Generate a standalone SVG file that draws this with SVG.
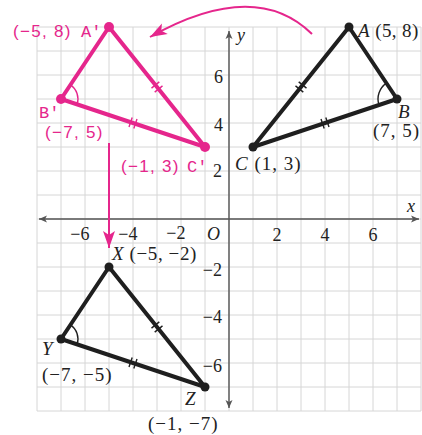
<svg xmlns="http://www.w3.org/2000/svg" width="422" height="435" viewBox="0 0 422 435">
<style>
.grid{stroke:#d6d6d6;stroke-width:1;fill:none}
.axis{stroke:#555;stroke-width:1.4;fill:none}
.pk{stroke:#e5268c;stroke-width:4;fill:none;stroke-linejoin:round;stroke-linecap:round}
.bk{stroke:#1f1f1f;stroke-width:4;fill:none;stroke-linejoin:round;stroke-linecap:round}
.pkt{stroke:#e5268c;stroke-width:1.4;fill:none}
.bkt{stroke:#1f1f1f;stroke-width:1.4;fill:none}
.pdot{fill:#e5268c}
.bdot{fill:#1f1f1f}
.ser{font-family:"Liberation Serif","Times New Roman",serif;font-size:19px;fill:#222;letter-spacing:1px}
.ax{font-family:"Liberation Serif","Times New Roman",serif;font-size:18px;fill:#222}
.it{font-style:italic}
.psans{font-family:"Liberation Sans",Arial,sans-serif;font-size:17px;fill:#e5268c;letter-spacing:1.3px}
.pmono{font-family:"Liberation Mono","DejaVu Sans Mono",monospace;font-size:17px;fill:#e5268c}
.parrow{stroke:#e5268c;stroke-width:2;fill:none}
</style>
<defs>
<marker id="pah" markerUnits="userSpaceOnUse" markerWidth="18" markerHeight="12" refX="17" refY="6" orient="auto" overflow="visible">
<path d="M0,0 L17,6 L0,12 L4,6 z" fill="#e5268c"/>
</marker>
<marker id="aah" markerUnits="userSpaceOnUse" markerWidth="9" markerHeight="7" refX="8" refY="3.5" orient="auto" overflow="visible">
<path d="M0,0 L8,3.5 L0,7 L2,3.5 z" fill="#555"/>
</marker>
</defs>
<g id="grid" class="grid">
<path d="M37,27V411M61,27V411M85,27V411M109,27V411M133,27V411M157,27V411M181,27V411M205,27V411M229,27V411M253,27V411M277,27V411M301,27V411M325,27V411M349,27V411M373,27V411M397,27V411M421,27V411"/>
<path d="M37,27H421M37,51H421M37,75H421M37,99H421M37,123H421M37,147H421M37,171H421M37,195H421M37,219H421M37,243H421M37,267H421M37,291H421M37,315H421M37,339H421M37,363H421M37,387H421M37,411H421"/>
</g>
<g id="axes">
<path class="axis" d="M229,219H419" marker-end="url(#aah)"/>
<path class="axis" d="M229,219H39" marker-end="url(#aah)"/>
<path class="axis" d="M229,219V31" marker-end="url(#aah)"/>
<path class="axis" d="M229,219V408" marker-end="url(#aah)"/>
<text class="ax it" x="407" y="212">x</text>
<text class="ax it" x="237" y="41">y</text>
<text class="ax it" x="207" y="240">O</text>
<g class="ax" text-anchor="end">
<text x="89.5" y="240">−6</text>
<text x="137.5" y="240">−4</text>
<text x="185.5" y="239">−2</text>
<text x="223" y="83">6</text>
<text x="223" y="131">4</text>
<text x="222" y="177">2</text>
<text x="222" y="276">−2</text>
<text x="222" y="323">−4</text>
<text x="222" y="372">−6</text>
</g>
<g class="ax" text-anchor="middle">
<text x="277" y="241">2</text>
<text x="325" y="241">4</text>
<text x="373" y="241">6</text>
</g>
</g>
<g id="connectors">
<path class="parrow" d="M312,34 Q255,-22 150,37" marker-end="url(#pah)"/>
<path class="parrow" d="M109,143 V248" marker-end="url(#pah)"/>
</g>
<g id="triangleABC">
<path class="bk" d="M349,27 L397,99 L253,147 Z"/>
<path class="bkt" d="M295.5,85.9L303.3,92.1M298.7,81.9L306.5,88.1M321,119.1L324.2,128.5M325.8,117.5L329,126.9"/>
<path class="bkt" d="M386.5,83.2 A19,19 0 0 0 379,105"/>
<circle class="bdot" cx="349" cy="27" r="4.5"/>
<circle class="bdot" cx="397" cy="99" r="4.5"/>
<circle class="bdot" cx="253" cy="147" r="4.5"/>
<text class="ser" x="358" y="37" style="letter-spacing:0.4px"><tspan class="it">A</tspan> (5, 8)</text>
<text class="ser it" x="398" y="118">B</text>
<text class="ser" x="373" y="137">(7, 5)</text>
<text class="ser" x="235" y="170"><tspan class="it">C</tspan> (1, 3)</text>
</g>
<g id="trianglePrime">
<path class="pk" d="M109,27 L61,99 L205,147 Z"/>
<path class="pkt" d="M151.5,88.1L159.3,81.9M154.7,92.1L162.5,85.9M132.2,117.5L129,126.9M137,119.1L133.8,128.5"/>
<path class="pkt" d="M70.4,84.9 A17,17 0 0 1 77.1,104.4"/>
<circle class="pdot" cx="109" cy="27" r="5"/>
<circle class="pdot" cx="61" cy="99" r="5"/>
<circle class="pdot" cx="205" cy="147" r="5"/>
<text class="psans" x="13" y="37">(−5, 8)</text>
<text class="pmono" x="81" y="37">A′</text>
<text class="pmono" x="39" y="118">B′</text>
<text class="psans" x="45" y="138">(−7, 5)</text>
<text class="psans" x="121" y="172">(−1, 3)</text>
<text class="pmono" x="187" y="172">C′</text>
</g>
<g id="triangleXYZ">
<path class="bk" d="M109,267 L61,339 L205,387 Z"/>
<path class="bkt" d="M151.5,328.1L159.3,321.9M154.7,332.1L162.5,325.9M132.2,357.5L129,366.9M137,359.1L133.8,368.5"/>
<path class="bkt" d="M70.4,324.9 A17,17 0 0 1 77.1,344.4"/>
<circle class="bdot" cx="109" cy="267" r="4.5"/>
<circle class="bdot" cx="61" cy="339" r="4.5"/>
<circle class="bdot" cx="205" cy="387" r="4.5"/>
<text class="ser" x="112" y="260" style="letter-spacing:0.6px"><tspan class="it">X</tspan> (−5, −2)</text>
<text class="ser it" x="42" y="355">Y</text>
<text class="ser" x="42" y="381">(−7, −5)</text>
<text class="ser it" x="185" y="405">Z</text>
<text class="ser" x="148" y="430">(−1, −7)</text>
</g>
</svg>
